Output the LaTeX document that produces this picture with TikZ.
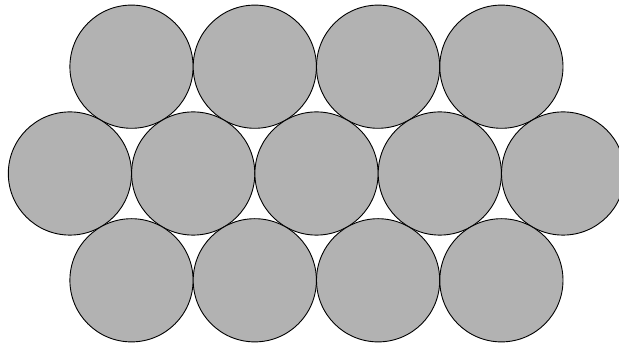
\documentclass[tikz,border=0pt]{standalone}
\definecolor{ballgray}{gray}{0.70}
\tikzset{ball/.style={fill=ballgray,draw=black,line width=0.9pt}}
\begin{document}
\begin{tikzpicture}[x=1pt,y=1pt]
\useasboundingbox (0,0) rectangle (619,345);
\clip (0,0) rectangle (619,345);
% top row
\foreach \i in {0,...,3}{
  \draw[ball] ({131.5+123.3*\i},278.3) circle (61.6);
}
% middle row
\foreach \i in {0,...,4}{
  \draw[ball] ({69.9+123.3*\i},171.5) circle (61.6);
}
% bottom row
\foreach \i in {0,...,3}{
  \draw[ball] ({131.5+123.3*\i},64.7) circle (61.6);
}
\end{tikzpicture}
\end{document}
